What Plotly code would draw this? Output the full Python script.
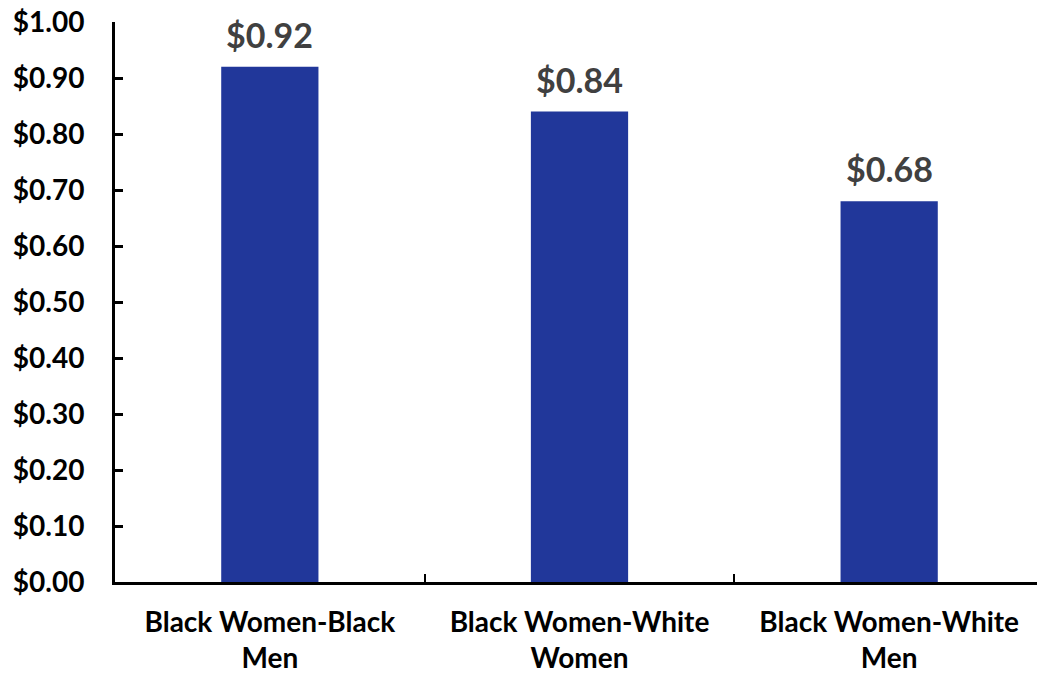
import plotly.graph_objects as go

categories = ["Black Women-Black<br>Men", "Black Women-White<br>Women", "Black Women-White<br>Men"]
values = [0.92, 0.84, 0.68]
value_labels = ["$0.92", "$0.84", "$0.68"]
y_ticks = [0, 0.1, 0.2, 0.3, 0.4, 0.5, 0.6, 0.7, 0.8, 0.9, 1.0]

fig = go.Figure(go.Bar(
    x=categories, y=values,
    marker=dict(color="#21379A", line=dict(width=0)),
    hoverinfo="x+y",
))

for c, v, t in zip(categories, values, value_labels):
    fig.add_annotation(
        x=c, y=v, text=t, showarrow=False, yanchor="bottom", yshift=10,
        font=dict(family="Lato", size=34, color="#404040", weight="bold"),
    )

fig.update_layout(
    width=1044, height=678,
    margin=dict(l=115, r=0, t=22, b=96),
    paper_bgcolor="white", plot_bgcolor="white",
    bargap=0.686, showlegend=False,
    font=dict(family="Lato", color="black"),
)
fig.update_yaxes(
    range=[0, 1.0], tickvals=y_ticks, tickformat="$.2f",
    showgrid=False, zeroline=False,
    showline=True, linecolor="black", linewidth=3,
    ticks="inside", ticklen=8, tickwidth=3, tickcolor="black",
    tickfont=dict(family="Lato", size=28, color="black", weight="bold"),
    ticklabelstandoff=22, automargin=False,
)
fig.update_xaxes(
    showgrid=False, showline=True, linecolor="black", linewidth=3,
    ticks="inside", tickson="boundaries", ticklen=8, tickwidth=2, tickcolor="black",
    tickfont=dict(family="Lato", size=28, color="black", weight="bold"),
    ticklabelstandoff=13, automargin=False,
)
fig.write_html("out.html", config={"displayModeBar": False},
               post_script="document.body.style.margin='0';document.body.style.overflow='hidden';")
